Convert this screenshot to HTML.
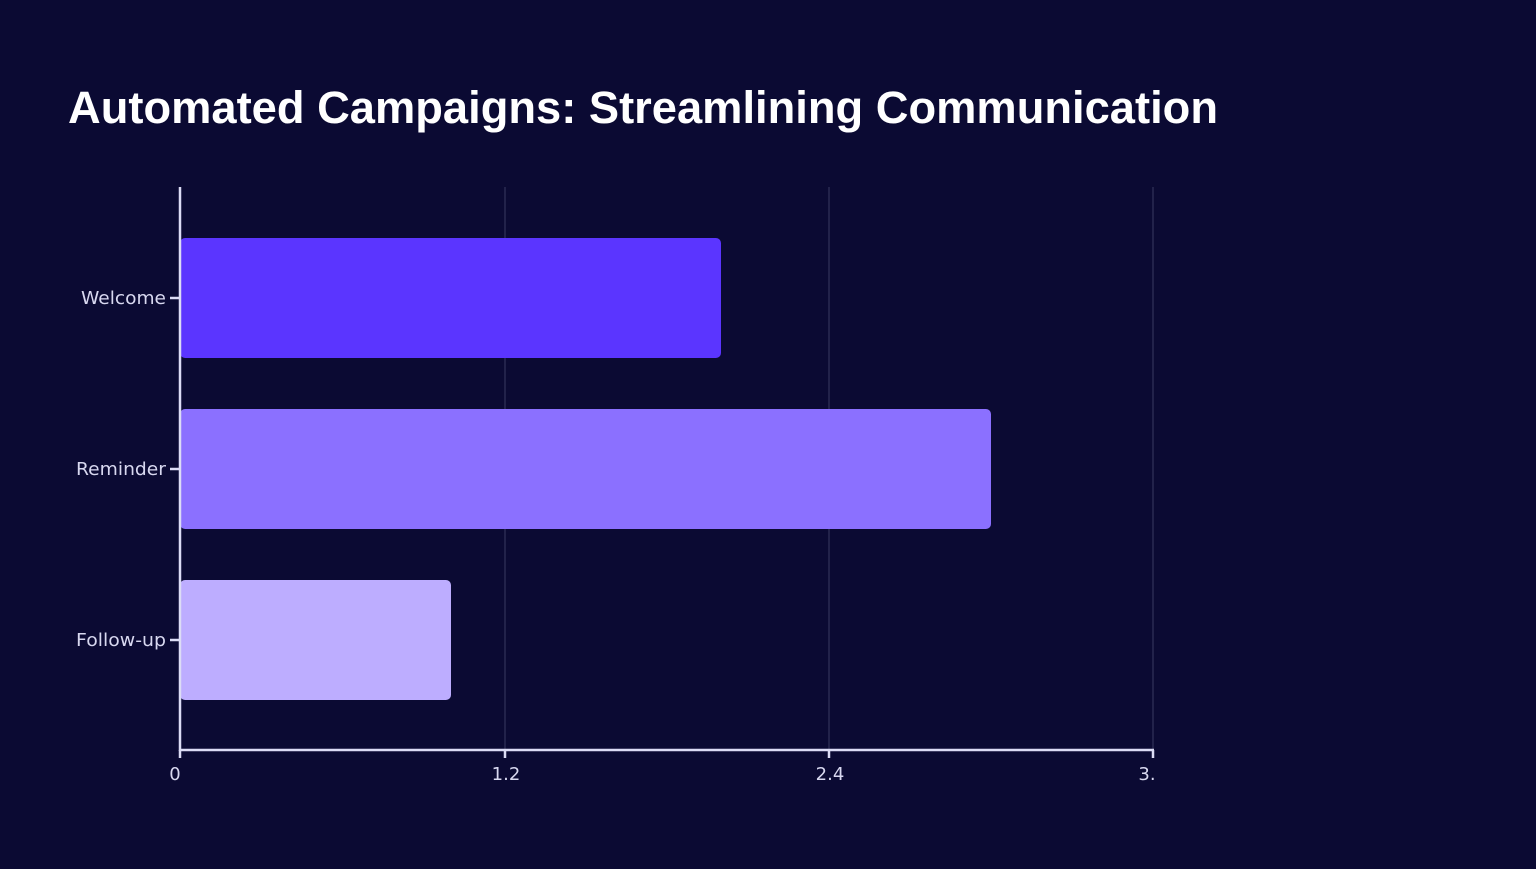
<!DOCTYPE html>
<html><head><style>
body{margin:0;background:#0b0a33;width:1536px;height:864px;overflow:hidden}
</style></head><body>
<svg width="1536" height="864" xmlns="http://www.w3.org/2000/svg">
<rect width="1536" height="864" fill="#0b0a33"/>
<text x="68" y="123" fill="#fff" font-family="Liberation Sans, sans-serif" font-weight="bold" font-size="45" textLength="1150" lengthAdjust="spacingAndGlyphs">Automated Campaigns: Streamlining Communication</text>
<g stroke="#3a3960" stroke-width="1">
<line x1="505" y1="187" x2="505" y2="750"/>
<line x1="829" y1="187" x2="829" y2="750"/>
<line x1="1153" y1="187" x2="1153" y2="750"/>
</g>
<rect x="180" y="238" width="541" height="120" rx="5" fill="#5b35ff"/>
<rect x="180" y="409" width="811" height="120" rx="5" fill="#8b70ff"/>
<rect x="180" y="580" width="271" height="120" rx="5" fill="#bdadff"/>
<g stroke="#dcdcf5" stroke-width="2.5">
<line x1="180" y1="187" x2="180" y2="751"/>
<line x1="179" y1="750" x2="1154" y2="750"/>
<line x1="180" y1="750" x2="180" y2="758"/>
<line x1="505" y1="750" x2="505" y2="758"/>
<line x1="829" y1="750" x2="829" y2="758"/>
<line x1="1153" y1="750" x2="1153" y2="758"/>
<line x1="170" y1="298" x2="180" y2="298"/>
<line x1="170" y1="469" x2="180" y2="469"/>
<line x1="170" y1="640" x2="180" y2="640"/>
</g>
<g fill="#d8d8f0" font-family="DejaVu Sans, Liberation Sans, sans-serif" font-size="18">
<text x="166" y="304" text-anchor="end" textLength="85" lengthAdjust="spacingAndGlyphs">Welcome</text>
<text x="166" y="475" text-anchor="end" textLength="90" lengthAdjust="spacingAndGlyphs">Reminder</text>
<text x="166" y="646" text-anchor="end" textLength="90" lengthAdjust="spacingAndGlyphs">Follow-up</text>
<text x="175" y="780" text-anchor="middle">0</text>
<text x="506" y="780" text-anchor="middle">1.2</text>
<text x="830" y="780" text-anchor="middle">2.4</text>
<text x="1147" y="780" text-anchor="middle">3.</text>
</g>
</svg>
</body></html>
